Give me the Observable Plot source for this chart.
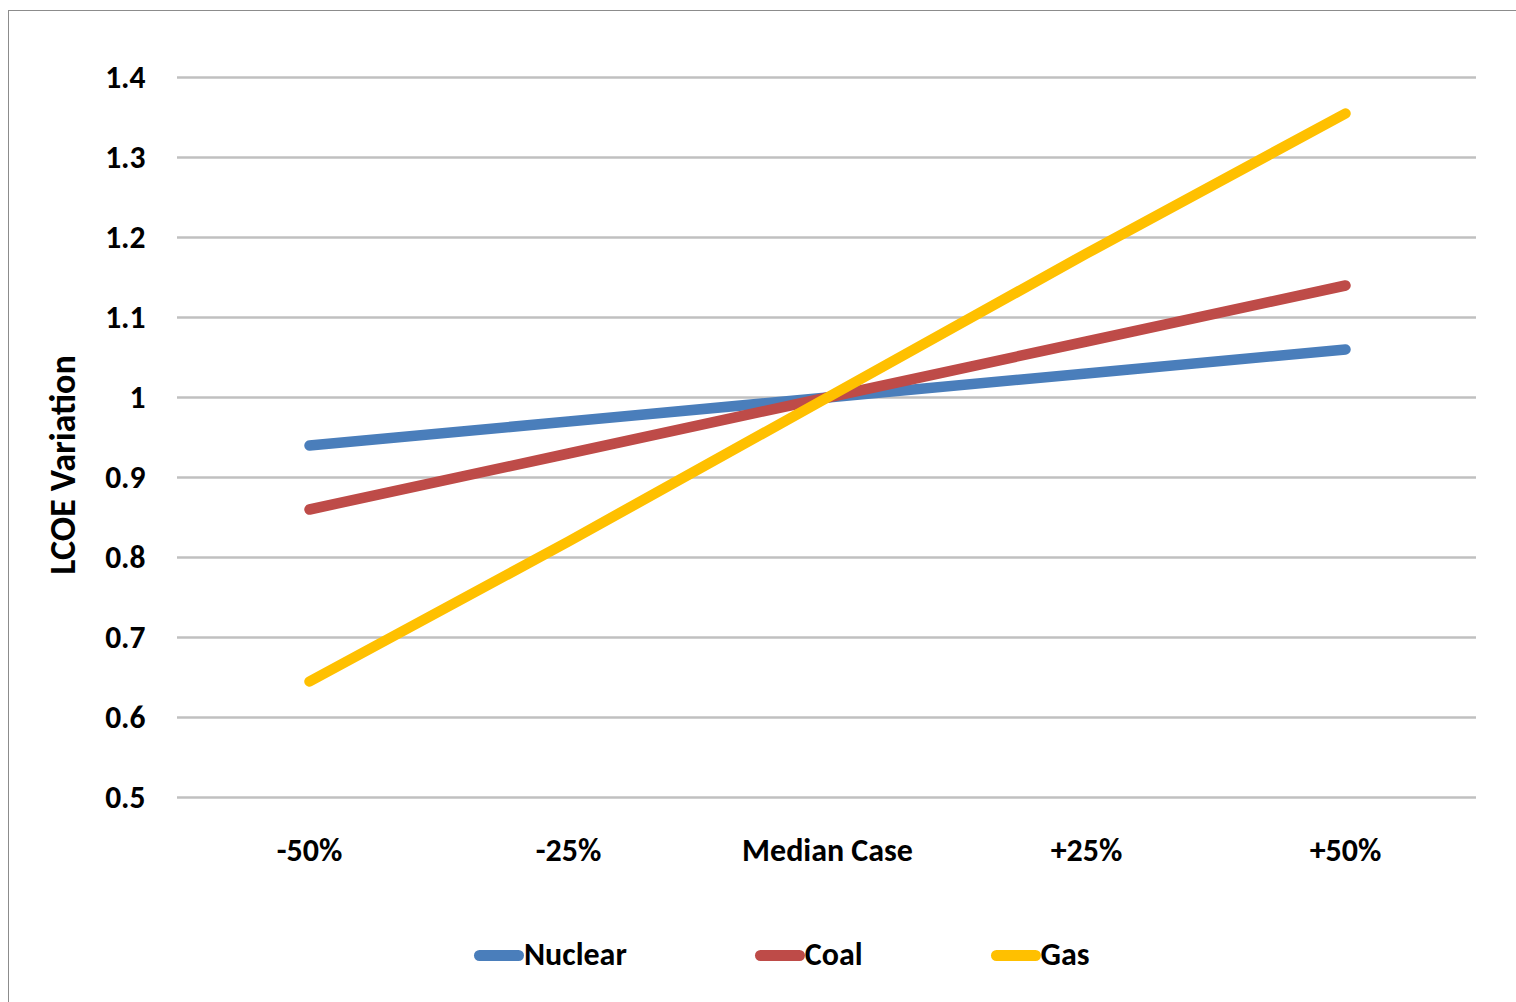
<!DOCTYPE html>
<html>
<head>
<meta charset="utf-8">
<script src="https://cdn.jsdelivr.net/npm/d3@7"></script>
<script src="https://cdn.jsdelivr.net/npm/@observablehq/plot@0.6"></script>
<style>
  html, body { margin: 0; padding: 0; background: #fff; }
  body { width: 1516px; height: 1002px; position: relative; overflow: hidden;
         font-family: Carlito, Lato, "Open Sans", sans-serif; }
  #frame { position: absolute; left: 8px; top: 10px; width: 1600px; height: 1100px;
           border: 1.5px solid #8c8c8c; box-sizing: border-box; }
  #chart { position: absolute; left: 0; top: 0; }
  #ytitle { position: absolute; left: 63px; top: 465px; transform: translate(-50%, -50%) rotate(-90deg);
            white-space: nowrap; font-weight: 700; font-size: 36px; color: #000; line-height: 1; }
  #legend { position: absolute; left: 474px; top: 935px; display: flex; gap: 128px;
            font-weight: 700; font-size: 32px; color: #000; line-height: 40px; }
  .item { display: flex; align-items: center; }
  .swatch { width: 50px; height: 11px; border-radius: 5.5px; }
</style>
</head>
<body>
<div id="frame"></div>
<div id="chart"></div>
<div id="ytitle">LCOE Variation</div>
<div id="legend"></div>
<script>
// Change in each input parameter
const categories = ["-50%", "-25%", "Median Case", "+25%", "+50%"];

// Levelised cost of electricity relative to the median case
const nuclear = [0.94, 0.97, 1.0, 1.03, 1.06];
const coal    = [0.86, 0.93, 1.0, 1.07, 1.14];
const gas     = [0.645, 0.82, 1.0, 1.18, 1.355];

const yTicks = [0.5, 0.6, 0.7, 0.8, 0.9, 1.0, 1.1, 1.2, 1.3, 1.4];

const seriesNames  = ["Nuclear", "Coal", "Gas"];
const seriesValues = [nuclear, coal, gas];
const seriesColors = ["#4a7ebb", "#be4b48", "#ffc000"];

const rows = seriesNames.flatMap((name, s) =>
  categories.map((c, i) => ({series: name, category: c, value: seriesValues[s][i]}))
);

const chart = Plot.plot({
  width: 1516,
  height: 900,
  marginLeft: 177,
  marginRight: 40,
  marginTop: 77,
  marginBottom: 103,
  style: {fontFamily: "Carlito, Lato, 'Open Sans', sans-serif", fontWeight: "700", color: "#000", background: "transparent"},
  x: {type: "point", domain: categories, padding: 0.5, label: null},
  y: {domain: [0.5, 1.4], label: null},
  color: {domain: seriesNames, range: seriesColors},
  marks: [
    Plot.ruleY(yTicks, {stroke: "#c0c0c0", strokeWidth: 2.5}),
    Plot.axisX({tickSize: 0, tickPadding: 41, fontSize: 32, fontWeight: 700}),
    Plot.axisY(yTicks, {tickSize: 0, tickPadding: 32, fontSize: 31.5, fontWeight: 700,
      tickFormat: d => d === 1 ? "1" : d.toFixed(1)}),
    Plot.line(rows, {x: "category", y: "value", z: "series", stroke: "series",
      strokeWidth: 10.5, strokeLinecap: "round", strokeLinejoin: "round", curve: "linear"})
  ]
});
document.getElementById("chart").appendChild(chart);

const legend = d3.select("#legend");
seriesNames.forEach((name, i) => {
  const item = legend.append("div").attr("class", "item");
  item.append("div").attr("class", "swatch").style("background", seriesColors[i]);
  item.append("span").text(name);
});
</script>
</body>
</html>
